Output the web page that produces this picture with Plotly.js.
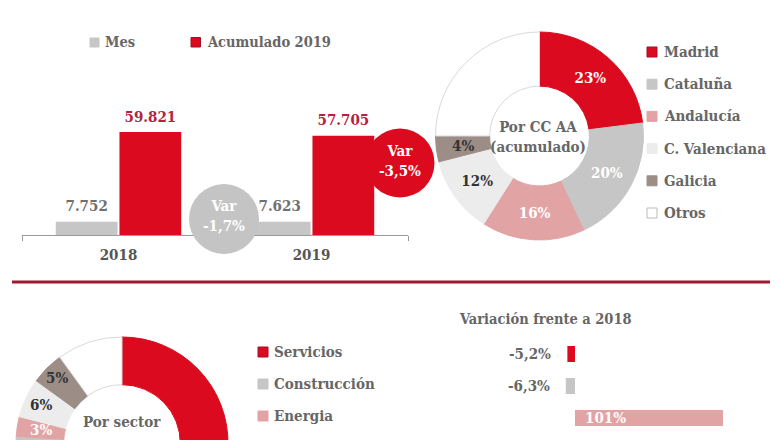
<!DOCTYPE html>
<html><head><meta charset="utf-8">
<script src="https://cdn.plot.ly/plotly-3.0.1.min.js"></script>
<style>html,body{margin:0;padding:0;overflow:hidden;background:#fff;width:780px;height:440px}</style>
</head><body><div id="chart" style="width:780px;height:560px"></div>
<script>
// ---------- data ----------
const years = ['2018', '2019'];
const mesValues = [7752, 7623];
const acumValues = [59821, 57705];
const seriesNames = ['Mes', 'Acumulado 2019'];
const varLabels = ['Var<br>-1,7%', 'Var<br>-3,5%'];

const ccaaLabels = ['Madrid', 'Cataluña', 'Andalucía', 'C. Valenciana', 'Galicia', 'Otros'];
const ccaaValues = [23, 20, 16, 12, 4, 25];
const ccaaCenter = 'Por CC AA<br>(acumulado)';

const sectorLabels = ['Servicios', 'Construcción', 'Energia', 'Industria', 'Agricultura', 'Otros'];
const sectorValues = [51, 25, 3, 6, 5, 10];
const sectorCenter = 'Por sector';

const varTitle = 'Variación frente a 2018';
const varSectors = ['Servicios', 'Construcción', 'Energia'];
const varValues = [-5.2, -6.3, 101];

// ---------- style ----------
const FONT = '"DejaVu Serif Condensed", "DejaVu Serif", serif';
const RED = '#dc0a1e', GREY = '#c6c6c6', PINK = '#e2a3a5', LIGHT = '#ececec', TAUPE = '#9c8d87', WHITE = '#ffffff';
const palette = [RED, GREY, PINK, LIGHT, TAUPE, WHITE];
const sliceLine = ['#dc0a1e', '#c6c6c6', '#e2a3a5', '#ececec', '#9c8d87', '#d9d9d9'];
const sliceText = ['#ffffff', '#ffffff', '#ffffff', '#333333', '#333333', '#333333'];
const W = 780, H = 560;
const X = px => px / W;
const Y = py => 1 - py / H;
const fmtPct = v => (Number.isInteger(v) ? String(v) : v.toFixed(1).replace('.', ',')) + '%';
const SMALL = 5; // slices below this share get their label as an annotation (not shrunk)

const annotations = [];
const shapes = [];
const txt = (x, y, text, opts) => Object.assign({xref: 'paper', yref: 'paper', x: X(x), y: Y(y), text: text,
  showarrow: false, xanchor: 'left', yanchor: 'middle', font: {size: 15, color: '#666'}}, opts || {});
const square = (x0, y0, size, fill, line) => ({type: 'rect', xref: 'paper', yref: 'paper',
  x0: X(x0), x1: X(x0 + size), y0: Y(y0 + size), y1: Y(y0), fillcolor: fill,
  line: {color: line || fill, width: 1}, layer: 'above'});

function donut(labels, values, box, hole) {
  // box = [left, top, right, bottom] in px
  const total = values.reduce((a, b) => a + b, 0);
  const cx = (box[0] + box[2]) / 2, cy = (box[1] + box[3]) / 2, R = (box[2] - box[0]) / 2;
  const rm = R * (1 + hole) / 2;
  let cum = 0;
  const text = values.map((v, i) => {
    const a = 2 * Math.PI * (cum + v / 2) / total;
    cum += v;
    if (i === values.length - 1) return '';
    if (v < SMALL) {
      annotations.push(txt(cx + rm * Math.sin(a), cy - rm * Math.cos(a), v + '%',
        {xanchor: 'center', font: {size: 15, color: sliceText[i]}}));
      return '';
    }
    return v + '%';
  });
  return {type: 'pie', labels: labels, values: values, sort: false, direction: 'clockwise', rotation: 0,
    hole: hole, domain: {x: [X(box[0]), X(box[2])], y: [Y(box[3]), Y(box[1])]},
    marker: {colors: palette, line: {color: sliceLine, width: 1}},
    text: text, textinfo: 'text', textposition: 'inside', insidetextorientation: 'horizontal',
    textfont: {size: 15, color: sliceText}, showlegend: false, hoverinfo: 'skip'};
}

const barText = '<span style="font-size:15px">%{y:,}</span><br> ';

// ---------- traces ----------
const traces = [
  {type: 'bar', x: years, y: mesValues, name: seriesNames[0], xaxis: 'x', yaxis: 'y',
   marker: {color: GREY}, texttemplate: barText, constraintext: 'none',
   textposition: 'outside', cliponaxis: false, textfont: {color: '#707070', size: 5}, hoverinfo: 'skip'},
  {type: 'bar', x: years, y: acumValues, name: seriesNames[1], xaxis: 'x', yaxis: 'y',
   marker: {color: RED}, texttemplate: barText, constraintext: 'none',
   textposition: 'outside', cliponaxis: false, textfont: {color: '#b3233f', size: 5}, hoverinfo: 'skip'},
  donut(ccaaLabels, ccaaValues, [435.5, 32, 643.5, 240], 0.48),
  donut(sectorLabels, sectorValues, [16, 337, 228, 549], 0.55),
  {type: 'bar', orientation: 'h', x: varValues, y: varSectors, xaxis: 'x2', yaxis: 'y2',
   marker: {color: varValues.map((v, i) => palette[i])}, width: 0.5, hoverinfo: 'skip', showlegend: false}
];

// ---------- annotations & shapes ----------
// top legend
shapes.push(square(90, 38, 9, GREY));
annotations.push(txt(103, 42, seriesNames[0], {font: {size: 14.5, color: '#666'}}));
shapes.push(square(191, 37.5, 9.5, RED, '#a01028'));
annotations.push(txt(205, 42, seriesNames[1], {font: {size: 14.5, color: '#666'}}));

// variation circles
shapes.push({type: 'circle', xref: 'paper', yref: 'paper', x0: X(189), x1: X(259), y0: Y(254), y1: Y(184),
  fillcolor: '#c4c4c4', line: {width: 0}, layer: 'above'});
shapes.push({type: 'circle', xref: 'paper', yref: 'paper', x0: X(365.5), x1: X(434.5), y0: Y(197.5), y1: Y(128.5),
  fillcolor: RED, line: {width: 0}, layer: 'above'});
annotations.push(txt(224, 216, varLabels[0], {xanchor: 'center', font: {size: 15, color: '#fff'}}));
annotations.push(txt(400, 161, varLabels[1], {xanchor: 'center', font: {size: 15, color: '#fff'}}));

// CC AA donut centre + legend
annotations.push(txt(538, 137, ccaaCenter, {xanchor: 'center', font: {size: 15, color: '#666'}}));
ccaaLabels.forEach((lab, i) => {
  const cy = 52 + i * 32.2;
  shapes.push(square(647, cy - 5, 10, palette[i], i === 5 ? '#bbbbbb' : (i === 0 ? '#a01028' : palette[i])));
  annotations.push(txt(662, cy, lab));
});

// separator
shapes.push({type: 'line', xref: 'paper', yref: 'paper', x0: X(12), x1: X(770), y0: Y(282), y1: Y(282),
  line: {color: '#9e1a31', width: 3}});

// sector donut centre + legend (the rows visible in the reference)
annotations.push(txt(122, 422, sectorCenter, {xanchor: 'center', font: {size: 15, color: '#666'}}));
varSectors.forEach((lab, i) => {
  const cy = 352 + i * 32;
  shapes.push(square(258, cy - 5, 10, palette[i], i === 0 ? '#a01028' : palette[i]));
  annotations.push(txt(272, cy, lab));
});

// variation bars
annotations.push(txt(545, 318, varTitle, {xanchor: 'center', font: {size: 14.5, color: '#666'}}));
varValues.forEach((v, i) => {
  annotations.push({xref: 'x2', yref: 'y2', x: v < 0 ? v : 0, y: varSectors[i], text: fmtPct(v), showarrow: false,
    xanchor: v < 0 ? 'right' : 'left', xshift: v < 0 ? -14 : 8, yanchor: 'middle',
    font: {size: 15, color: v < 0 ? '#666' : '#fff'}});
});

const k = 148 / 101; // px per % on the variation axis
const layout = {
  width: W, height: H, margin: {l: 0, r: 0, t: 0, b: 0},
  paper_bgcolor: '#fff', plot_bgcolor: 'rgba(0,0,0,0)', showlegend: false,
  separators: ',.', font: {family: FONT, size: 15, color: '#666', weight: 700},
  barmode: 'group', bargap: 0.34, bargroupgap: 0.03,
  xaxis: {domain: [X(22), X(408)], anchor: 'y', type: 'category', showline: true, linecolor: '#9a9a9a',
    linewidth: 1, ticks: 'outside', tickson: 'boundaries', ticklen: 5, tickcolor: '#9a9a9a',
    showgrid: false, zeroline: false, tickfont: {size: 15, color: '#555'}, ticklabelstandoff: 6, fixedrange: true},
  yaxis: {domain: [Y(235), Y(60)], anchor: 'x', range: [0, 59821 * 175 / 103], visible: false, fixedrange: true},
  xaxis2: {domain: [X(460), X(740)], anchor: 'y2', range: [(460 - 575) / k, (740 - 575) / k], visible: false, fixedrange: true},
  yaxis2: {domain: [Y(434), Y(338)], anchor: 'x2', type: 'category', range: [2.5, -0.5], visible: false, fixedrange: true},
  annotations: annotations, shapes: shapes
};

Plotly.newPlot('chart', traces, layout, {displayModeBar: false, staticPlot: true});
</script></body></html>
